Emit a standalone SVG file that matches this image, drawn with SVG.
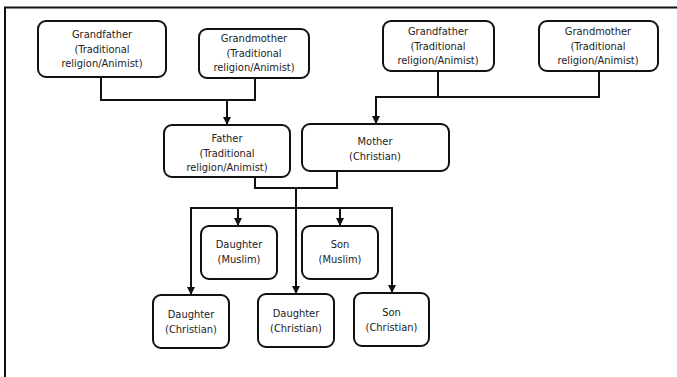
<svg xmlns="http://www.w3.org/2000/svg" width="677" height="377" viewBox="0 0 677 377">
<style>
.box{fill:#fff;stroke:#111;stroke-width:2}
.t{font-family:"DejaVu Sans Condensed","DejaVu Sans",sans-serif;font-size:11px;fill:#222;text-anchor:middle}
.c{fill:none;stroke:#111;stroke-width:2}
</style>
<defs>
<marker id="ah" viewBox="0 0 10 10" refX="10" refY="5" markerWidth="4" markerHeight="4" orient="auto" markerUnits="strokeWidth">
<path d="M0,0 L10,5 L0,10 z" fill="#111"/>
</marker>
</defs>
<rect width="677" height="377" fill="#fff"/>
<path d="M5,377 V7.5 H677" fill="none" stroke="#111" stroke-width="2"/>
<g id="connectors">
<path class="c" d="M101,77 V100 H255 V78"/>
<path class="c" d="M227,100 V125" marker-end="url(#ah)"/>
<path class="c" d="M438,71 V97 M599,71 V97 H376 V124" marker-end="url(#ah)"/>
<path class="c" d="M255,177 V188 H337 V171"/>
<path class="c" d="M296,188 V294" marker-end="url(#ah)"/>
<path class="c" d="M191,295 V208 H392 V293" marker-end="url(#ah)"/>
<path class="c" d="M191,208 V295" marker-end="url(#ah)"/>
<path class="c" d="M238,208 V226" marker-end="url(#ah)"/>
<path class="c" d="M340,208 V226" marker-end="url(#ah)"/>
</g>
<g id="gf1"><rect class="box" x="38" y="21" width="128" height="56" rx="8"/>
<text class="t" x="102" y="38">Grandfather</text><text class="t" x="102" y="52.5">(Traditional</text><text class="t" x="102" y="67">religion/Animist)</text></g>
<g id="gm1"><rect class="box" x="199" y="29" width="110" height="49" rx="8"/>
<text class="t" x="254" y="42">Grandmother</text><text class="t" x="254" y="56.5">(Traditional</text><text class="t" x="254" y="71">religion/Animist)</text></g>
<g id="gf2"><rect class="box" x="383" y="21" width="111" height="50" rx="8"/>
<text class="t" x="438" y="35">Grandfather</text><text class="t" x="438" y="49.5">(Traditional</text><text class="t" x="438" y="64">religion/Animist)</text></g>
<g id="gm2"><rect class="box" x="539" y="21" width="119" height="50" rx="8"/>
<text class="t" x="598" y="35">Grandmother</text><text class="t" x="598" y="49.5">(Traditional</text><text class="t" x="598" y="64">religion/Animist)</text></g>
<g id="father"><rect class="box" x="164" y="125" width="126" height="52" rx="8"/>
<text class="t" x="227" y="142">Father</text><text class="t" x="227" y="156.5">(Traditional</text><text class="t" x="227" y="171">religion/Animist)</text></g>
<g id="mother"><rect class="box" x="302" y="124" width="147" height="47" rx="8"/>
<text class="t" x="375" y="145">Mother</text><text class="t" x="375" y="160">(Christian)</text></g>
<g id="dm"><rect class="box" x="201" y="226" width="76" height="53" rx="8"/>
<text class="t" x="239" y="248">Daughter</text><text class="t" x="239" y="263">(Muslim)</text></g>
<g id="sm"><rect class="box" x="302" y="226" width="76" height="53" rx="8"/>
<text class="t" x="340" y="248">Son</text><text class="t" x="340" y="263">(Muslim)</text></g>
<g id="dc1"><rect class="box" x="153" y="295" width="76" height="53" rx="8"/>
<text class="t" x="191" y="318">Daughter</text><text class="t" x="191" y="333">(Christian)</text></g>
<g id="dc2"><rect class="box" x="258" y="294" width="76" height="53" rx="8"/>
<text class="t" x="296" y="317">Daughter</text><text class="t" x="296" y="332">(Christian)</text></g>
<g id="sc"><rect class="box" x="354" y="293" width="75" height="53" rx="8"/>
<text class="t" x="391.5" y="316">Son</text><text class="t" x="391.5" y="331">(Christian)</text></g>
</svg>
